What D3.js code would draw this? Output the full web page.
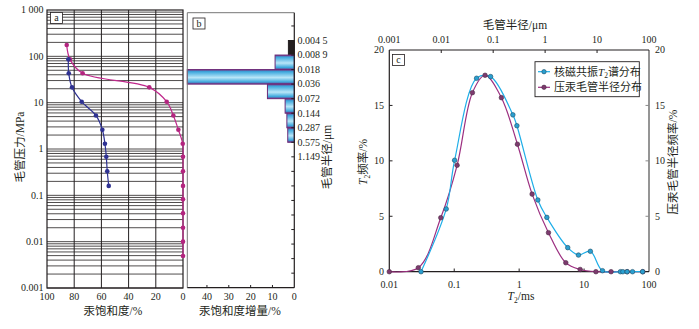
<!DOCTYPE html>
<html><head><meta charset="utf-8">
<script src="https://cdn.jsdelivr.net/npm/d3@7"></script>
<style>body{margin:0;background:#fff}svg{display:block}text{font-family:"Liberation Serif","Noto Sans CJK SC",serif;fill:#231f20}</style>
</head><body>
<script>
// ---------- Panel a: capillary pressure curves ----------
const pressureLevels = [175, 86, 43, 21.4, 10.5, 5.3, 2.6, 1.3, 0.68, 0.33, 0.16, 0.082, 0.041, 0.020, 0.010, 0.0049];
const injectionSat   = [85.5, 83.1, 73.8, 24.8, 12, 7.1, 3.4, 0.2, 0, 0, 0, 0, 0, 0, 0, 0];
const blueSat        = [84.3, 84, 81.6, 74.5, 64, 59.3, 57.4, 56.4, 55.7, 54.6];
const pressureTicks  = [0.001, 0.01, 0.1, 1, 10, 100, 1000];
const pressureLabels = ["0.001", "0.01", "0.1", "1", "10", "100", "1 000"];
const satTicks = [100, 80, 60, 40, 20, 0];

// ---------- Panel b: saturation increment ----------
const radiusTicks  = [0.004488, 0.008977, 0.01795, 0.0359, 0.0718, 0.1436, 0.28725, 0.5745, 1.149];
const radiusLabels = ["0.004 5", "0.008 9", "0.018", "0.036", "0.072", "0.144", "0.287", "0.575", "1.149"];
const incrementValues = [2.7, 8.8, 49, 12.3, 4.2, 3.4, 3.0];
const incrementTicks = [40, 30, 20, 10, 0];

// ---------- Panel c: distributions ----------
const nmrT2   = [0.0308, 0.0753, 0.1014, 0.221, 0.363, 0.8, 0.923, 1.94, 2.67, 5.6, 8.2, 12.5, 19.2, 36.3, 39.6, 46, 55.7, 79.7];
const nmrFreq = [0, 5.66, 10.05, 17.45, 17.6, 14.15, 13.17, 6.47, 4.9, 2.17, 1.5, 1.84, 0.09, 0, 0, 0, 0, 0];
const mercRadius = [0.001, 0.00362, 0.0098, 0.0202, 0.0398, 0.0698, 0.144, 0.293, 0.562, 1.16, 2.5, 4.73, 9.5, 18.6, 38, 76];
const mercFreq   = [0, 0.36, 4.87, 9.6, 16.15, 17.72, 15.7, 11.5, 7.0, 3.52, 0.81, 0.2, 0, 0, 0, 0];
const t2Ticks = [0.01, 0.1, 1, 10, 100];
const t2Labels = ["0.01", "0.1", "1", "10", "100"];
const rTicks = [0.001, 0.01, 0.1, 1, 10, 100];
const rLabels = ["0.001", "0.01", "0.1", "1", "10", "100"];
const freqTicks = [0, 5, 10, 15, 20];

const W = 699, H = 329, TF = 10;
const svg = d3.select("body").append("svg").attr("width", W).attr("height", H);
svg.append("rect").attr("width", W).attr("height", H).attr("fill", "#fff");

function panelLabel(x, y, t) {
  svg.append("rect").attr("x", x).attr("y", y).attr("width", 12).attr("height", 11)
    .attr("fill", "#fff").attr("stroke", "#231f20").attr("stroke-width", 0.8);
  svg.append("text").attr("x", x + 6).attr("y", y + 8.5).attr("text-anchor", "middle")
    .attr("font-size", 10).text(t);
}

// ===== Panel a =====
const xA = d3.scaleLinear().domain([100, 0]).range([47, 183]);
const yA = d3.scaleLog().domain([0.001, 1000]).range([288, 10]);
const gA = svg.append("g");
const minor = [];
for (let e = -3; e < 3; e++) for (let m = 1; m <= 9; m++) minor.push(m * Math.pow(10, e));
gA.selectAll("line.h").data(minor).join("line")
  .attr("x1", 47).attr("x2", 183).attr("y1", d => yA(d)).attr("y2", d => yA(d))
  .attr("stroke", "#231f20").attr("stroke-width", 0.8);
gA.selectAll("line.v").data([80, 60, 40, 20]).join("line")
  .attr("x1", d => xA(d)).attr("x2", d => xA(d)).attr("y1", 10).attr("y2", 288)
  .attr("stroke", "#231f20").attr("stroke-width", 1);
gA.append("rect").attr("x", 47).attr("y", 10).attr("width", 136).attr("height", 278)
  .attr("fill", "none").attr("stroke", "#231f20").attr("stroke-width", 1.2);
gA.selectAll("text.yt").data(pressureTicks).join("text")
  .attr("x", 43.5).attr("y", d => yA(d) + 3.3).attr("text-anchor", "end").attr("font-size", TF)
  .text((d, i) => pressureLabels[i]);
gA.selectAll("text.xt").data(satTicks).join("text")
  .attr("x", d => xA(d)).attr("y", 300.3).attr("text-anchor", "middle").attr("font-size", TF)
  .text(d => d);
svg.append("text").attr("x", 113).attr("y", 315).attr("text-anchor", "middle").attr("font-size", 11.5)
  .text("汞饱和度/%");
svg.append("text").attr("transform", "translate(24,147) rotate(-90)").attr("text-anchor", "middle")
  .attr("font-size", 11.5).text("毛管压力/MPa");

const lineA = d3.line().curve(d3.curveCatmullRom.alpha(0.5));
const magPts = pressureLevels.map((p, i) => [xA(injectionSat[i]), yA(p)]);
const bluPts = blueSat.map((s, i) => [xA(s), yA(pressureLevels[i + 1])]);
gA.append("path").attr("d", lineA(magPts)).attr("fill", "none").attr("stroke", "#c0288c").attr("stroke-width", 1.2);
gA.append("path").attr("d", lineA(bluPts)).attr("fill", "none").attr("stroke", "#2e3192").attr("stroke-width", 1.2);
gA.selectAll("circle.m").data(magPts).join("circle").attr("cx", d => d[0]).attr("cy", d => d[1]).attr("r", 2.3).attr("fill", "#b3247f");
gA.selectAll("circle.b").data(bluPts).join("circle").attr("cx", d => d[0]).attr("cy", d => d[1]).attr("r", 2.3).attr("fill", "#2e3192");
panelLabel(50.5, 12.5, "a");

// ===== Panel b =====
const xB = d3.scaleLinear().domain([49, 0]).range([187.3, 294.3]);
const yB = d3.scaleLog().base(2).domain([radiusTicks[0], radiusTicks[0] * Math.pow(2, 17)]).range([40.5, 287.7]);
const gB = svg.append("g");
const defs = svg.append("defs");
const grad = defs.append("linearGradient").attr("id", "barGrad").attr("x1", 0).attr("y1", 0).attr("x2", 0).attr("y2", 1);
[[0, "#7b2d7e"], [0.14, "#3aa6dc"], [0.55, "#b9e6f8"], [0.86, "#3aa6dc"], [1, "#7b2d7e"]]
  .forEach(s => grad.append("stop").attr("offset", s[0]).attr("stop-color", s[1]));
const allRTicks = d3.range(-1, 17).map(k => radiusTicks[0] * Math.pow(2, k));
gB.selectAll("rect.bar").data(incrementValues).join("rect")
  .attr("x", d => xB(d)).attr("width", d => xB(0) - xB(d))
  .attr("y", (d, i) => yB(radiusTicks[i])).attr("height", (d, i) => yB(radiusTicks[i + 1]) - yB(radiusTicks[i]))
  .attr("fill", (d, i) => i === 0 ? "#231f20" : "url(#barGrad)")
  .attr("stroke", (d, i) => i === 0 ? "#231f20" : "#6a2a78").attr("stroke-width", 1);
gB.append("line").attr("x1", 187.3).attr("x2", 187.3).attr("y1", 12.7).attr("y2", 287.7).attr("stroke", "#777").attr("stroke-width", 1);
gB.append("line").attr("x1", 187.3).attr("x2", 294.3).attr("y1", 12.7).attr("y2", 12.7).attr("stroke", "#777").attr("stroke-width", 1);
gB.append("line").attr("x1", 294.3).attr("x2", 294.3).attr("y1", 12.7).attr("y2", 287.7).attr("stroke", "#231f20").attr("stroke-width", 1.2);
gB.append("line").attr("x1", 187.3).attr("x2", 294.3).attr("y1", 287.7).attr("y2", 287.7).attr("stroke", "#231f20").attr("stroke-width", 1.2);
gB.selectAll("line.rt").data(allRTicks).join("line")
  .attr("x1", 291.3).attr("x2", 294.3).attr("y1", d => yB(d)).attr("y2", d => yB(d)).attr("stroke", "#231f20");
gB.selectAll("line.xt").data(incrementTicks.slice(0, 4)).join("line")
  .attr("x1", d => xB(d)).attr("x2", d => xB(d)).attr("y1", 287.7).attr("y2", 285).attr("stroke", "#231f20");
gB.selectAll("text.rl").data(radiusTicks).join("text")
  .attr("x", 297.5).attr("y", d => yB(d) + 3.3).attr("font-size", TF).text((d, i) => radiusLabels[i]);
gB.selectAll("text.xl").data(incrementTicks).join("text")
  .attr("x", d => xB(d)).attr("y", 300.3).attr("text-anchor", "middle").attr("font-size", TF).text(d => d);
svg.append("text").attr("x", 240).attr("y", 315).attr("text-anchor", "middle").attr("font-size", 11.5).text("汞饱和度增量/%");
svg.append("text").attr("transform", "translate(331,157) rotate(-90)").attr("text-anchor", "middle")
  .attr("font-size", 11.5).text("毛管半径/μm");
panelLabel(193, 18, "b");

// ===== Panel c =====
const xT = d3.scaleLog().domain([0.01, 100]).range([389.3, 649]);
const xR = d3.scaleLog().domain([0.001, 100]).range([389.3, 649]);
const yC = d3.scaleLinear().domain([0, 20]).range([271.7, 50]);
const gC = svg.append("g");
gC.append("line").attr("x1", 649).attr("x2", 649).attr("y1", 50).attr("y2", 271.7).attr("stroke", "#8a8a8a").attr("stroke-width", 1.8);
gC.append("line").attr("x1", 389.3).attr("x2", 389.3).attr("y1", 50).attr("y2", 271.7).attr("stroke", "#231f20").attr("stroke-width", 1.2);
gC.append("line").attr("x1", 389.3).attr("x2", 649).attr("y1", 50).attr("y2", 50).attr("stroke", "#231f20").attr("stroke-width", 1.2);
gC.append("line").attr("x1", 389.3).attr("x2", 649).attr("y1", 271.7).attr("y2", 271.7).attr("stroke", "#231f20").attr("stroke-width", 1.2);
gC.selectAll("line.lt").data(freqTicks.slice(1, 4)).join("line")
  .attr("x1", 389.3).attr("x2", 392.5).attr("y1", d => yC(d)).attr("y2", d => yC(d)).attr("stroke", "#231f20");
gC.selectAll("line.rt").data(freqTicks.slice(1, 4)).join("line")
  .attr("x1", 645.5).attr("x2", 649).attr("y1", d => yC(d)).attr("y2", d => yC(d)).attr("stroke", "#8a8a8a");
gC.selectAll("line.bt").data(t2Ticks.slice(1, 4)).join("line")
  .attr("x1", d => xT(d)).attr("x2", d => xT(d)).attr("y1", 271.7).attr("y2", 268.5).attr("stroke", "#231f20");
gC.selectAll("line.tt").data(rTicks.slice(1, 5)).join("line")
  .attr("x1", d => xR(d)).attr("x2", d => xR(d)).attr("y1", 50).attr("y2", 53).attr("stroke", "#231f20");
gC.selectAll("text.ly").data(freqTicks).join("text")
  .attr("x", 384).attr("y", d => yC(d) + 3.3).attr("text-anchor", "end").attr("font-size", TF).text(d => d);
gC.selectAll("text.ry").data(freqTicks).join("text")
  .attr("x", 655).attr("y", d => yC(d) + 3.3).attr("font-size", TF).text(d => d);
gC.selectAll("text.bx").data(t2Ticks).join("text")
  .attr("x", d => xT(d)).attr("y", 287.5).attr("text-anchor", "middle").attr("font-size", TF).text((d, i) => t2Labels[i]);
gC.selectAll("text.tx").data(rTicks).join("text")
  .attr("x", d => xR(d)).attr("y", 42.5).attr("text-anchor", "middle").attr("font-size", TF).text((d, i) => rLabels[i]);
svg.append("text").attr("x", 515).attr("y", 29).attr("text-anchor", "middle").attr("font-size", 11.5).text("毛管半径/μm");
const bl = svg.append("text").attr("x", 521).attr("y", 300).attr("text-anchor", "middle").attr("font-size", 11.5);
bl.append("tspan").attr("font-style", "italic").text("T");
bl.append("tspan").attr("font-size", 7.5).attr("dy", 2.5).text("2");
bl.append("tspan").attr("dy", -2.5).text("/ms");
const ll = svg.append("text").attr("transform", "translate(367,162) rotate(-90)").attr("text-anchor", "middle").attr("font-size", 11.5);
ll.append("tspan").attr("font-style", "italic").text("T");
ll.append("tspan").attr("font-size", 7.5).attr("dy", 2.5).text("2");
ll.append("tspan").attr("dy", -2.5).text("频率/%");
svg.append("text").attr("transform", "translate(677,162) rotate(-90)").attr("text-anchor", "middle")
  .attr("font-size", 11.5).text("压汞毛管半径频率/%");

const lineC = d3.line().curve(d3.curveCatmullRom.alpha(0.5));
const nmrPts = nmrT2.map((t, i) => [xT(t), yC(nmrFreq[i])]);
const mercPts = mercRadius.map((r, i) => [xR(r), yC(mercFreq[i])]);
gC.append("path").attr("d", lineC(mercPts)).attr("fill", "none").attr("stroke", "#9c2f80").attr("stroke-width", 1.2);
gC.append("path").attr("d", lineC(nmrPts)).attr("fill", "none").attr("stroke", "#1eaee8").attr("stroke-width", 1.2);
gC.selectAll("circle.m").data(mercPts).join("circle").attr("cx", d => d[0]).attr("cy", d => d[1]).attr("r", 2.3)
  .attr("fill", "#7d3a6e").attr("stroke", "#4a2a44").attr("stroke-width", 0.6);
gC.selectAll("circle.n").data(nmrPts).join("circle").attr("cx", d => d[0]).attr("cy", d => d[1]).attr("r", 2.3)
  .attr("fill", "#2a9fd0").attr("stroke", "#1d4e66").attr("stroke-width", 0.6);
panelLabel(392.5, 54.5, "c");

// legend
const lg = svg.append("g");
lg.append("rect").attr("x", 535).attr("y", 61.7).attr("width", 104.3).attr("height", 35)
  .attr("fill", "#fff").attr("stroke", "#231f20").attr("stroke-width", 0.9);
const legendItems = [{c: "#1eaee8", f: "#2a9fd0", s: "#1d4e66", y: 71.7}, {c: "#9c2f80", f: "#7d3a6e", s: "#4a2a44", y: 87.3}];
legendItems.forEach(it => {
  lg.append("line").attr("x1", 538).attr("x2", 550).attr("y1", it.y).attr("y2", it.y).attr("stroke", it.c).attr("stroke-width", 1.2);
  lg.append("circle").attr("cx", 544).attr("cy", it.y).attr("r", 2.2).attr("fill", it.f).attr("stroke", it.s).attr("stroke-width", 0.6);
});
const t1 = lg.append("text").attr("x", 554).attr("y", 75.5).attr("font-size", 11);
t1.append("tspan").text("核磁共振");
t1.append("tspan").attr("font-style", "italic").text("T");
t1.append("tspan").attr("font-size", 7.5).attr("dy", 2.5).text("2");
t1.append("tspan").attr("dy", -2.5).text("谱分布");
lg.append("text").attr("x", 554).attr("y", 91.2).attr("font-size", 11).text("压汞毛管半径分布");
</script>
</body></html>
